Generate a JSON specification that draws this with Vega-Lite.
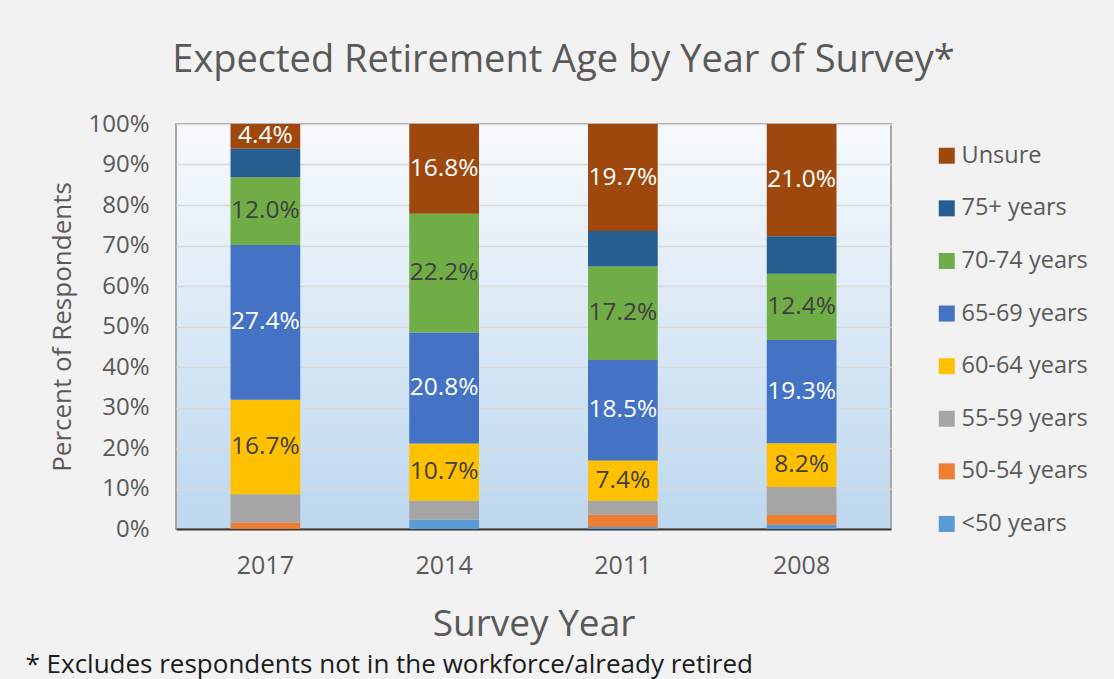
{
  "$schema": "https://vega.github.io/schema/vega-lite/v6.json",
  "width": 715,
  "height": 405,
  "autosize": {"type": "none"},
  "padding": {"left": 176, "top": 124, "right": 223, "bottom": 150},
  "background": "#f2f2f2",
  "config": {
    "font": "Open Sans",
    "view": {
      "stroke": "#a6a6a6",
      "strokeWidth": 2,
      "fill": {
        "gradient": "linear",
        "x1": 0, "y1": 0, "x2": 0, "y2": 1,
        "stops": [
          {"offset": 0, "color": "#f7fafd"},
          {"offset": 1, "color": "#bdd7ee"}
        ]
      }
    }
  },
  "title": {
    "text": "Expected Retirement Age by Year of Survey*",
    "fontSize": 38,
    "fontWeight": "normal",
    "color": "#595959",
    "anchor": "middle",
    "frame": "group",
    "dx": 30,
    "offset": 32
  },
  "data": {
    "values": [
      {"year": "2017", "age": "<50 years", "rank": 1, "value": 0.0},
      {"year": "2017", "age": "50-54 years", "rank": 2, "value": 0.0115},
      {"year": "2017", "age": "55-59 years", "rank": 3, "value": 0.050},
      {"year": "2017", "age": "60-64 years", "rank": 4, "value": 0.167},
      {"year": "2017", "age": "65-69 years", "rank": 5, "value": 0.274},
      {"year": "2017", "age": "70-74 years", "rank": 6, "value": 0.120},
      {"year": "2017", "age": "75+ years", "rank": 7, "value": 0.050},
      {"year": "2017", "age": "Unsure", "rank": 8, "value": 0.044},
      {"year": "2014", "age": "<50 years", "rank": 1, "value": 0.0174},
      {"year": "2014", "age": "50-54 years", "rank": 2, "value": 0.0},
      {"year": "2014", "age": "55-59 years", "rank": 3, "value": 0.0356},
      {"year": "2014", "age": "60-64 years", "rank": 4, "value": 0.107},
      {"year": "2014", "age": "65-69 years", "rank": 5, "value": 0.208},
      {"year": "2014", "age": "70-74 years", "rank": 6, "value": 0.222},
      {"year": "2014", "age": "75+ years", "rank": 7, "value": 0.0},
      {"year": "2014", "age": "Unsure", "rank": 8, "value": 0.168},
      {"year": "2011", "age": "<50 years", "rank": 1, "value": 0.0037},
      {"year": "2011", "age": "50-54 years", "rank": 2, "value": 0.0223},
      {"year": "2011", "age": "55-59 years", "rank": 3, "value": 0.026},
      {"year": "2011", "age": "60-64 years", "rank": 4, "value": 0.074},
      {"year": "2011", "age": "65-69 years", "rank": 5, "value": 0.185},
      {"year": "2011", "age": "70-74 years", "rank": 6, "value": 0.172},
      {"year": "2011", "age": "75+ years", "rank": 7, "value": 0.065},
      {"year": "2011", "age": "Unsure", "rank": 8, "value": 0.197},
      {"year": "2008", "age": "<50 years", "rank": 1, "value": 0.0081},
      {"year": "2008", "age": "50-54 years", "rank": 2, "value": 0.0182},
      {"year": "2008", "age": "55-59 years", "rank": 3, "value": 0.0523},
      {"year": "2008", "age": "60-64 years", "rank": 4, "value": 0.082},
      {"year": "2008", "age": "65-69 years", "rank": 5, "value": 0.193},
      {"year": "2008", "age": "70-74 years", "rank": 6, "value": 0.124},
      {"year": "2008", "age": "75+ years", "rank": 7, "value": 0.0705},
      {"year": "2008", "age": "Unsure", "rank": 8, "value": 0.210}
    ]
  },
  "transform": [
    {"stack": "value", "groupby": ["year"], "sort": [{"field": "rank", "order": "ascending"}], "offset": "normalize", "as": ["y0", "y1"]},
    {"calculate": "(datum.y0 + datum.y1) / 2", "as": "ymid"}
  ],
  "layer": [
    {
      "mark": {"type": "bar"},
      "encoding": {
        "x": {
          "field": "year", "type": "nominal",
          "sort": ["2017", "2014", "2011", "2008"],
          "scale": {"paddingInner": 0.61, "paddingOuter": 0.305},
          "title": "Survey Year",
          "axis": {
            "orient": "bottom",
            "labelAngle": 0,
            "labelFontSize": 25,
            "labelColor": "#595959",
            "labelPadding": 24,
            "ticks": false,
            "domainColor": "#3a3a3a",
            "domainWidth": 2,
            "titleFontSize": 37,
            "titleFontWeight": "normal",
            "titleColor": "#595959",
            "titlePadding": 28
          }
        },
        "y": {
          "field": "y1", "type": "quantitative",
          "scale": {"domain": [0, 1]},
          "title": "Percent of Respondents",
          "axis": {
            "format": ".0%",
            "values": [0, 0.1, 0.2, 0.3, 0.4, 0.5, 0.6, 0.7, 0.8, 0.9, 1],
            "labelFontSize": 24,
            "labelColor": "#595959",
            "labelPadding": 27,
            "ticks": false,
            "domain": false,
            "gridColor": "#d9d9d9",
            "gridWidth": 1.5,
            "titleFontSize": 26,
            "titleFontWeight": "normal",
            "titleColor": "#595959",
            "titlePadding": 12
          }
        },
        "y2": {"field": "y0"},
        "color": {
          "field": "age", "type": "nominal",
          "scale": {
            "domain": ["Unsure", "75+ years", "70-74 years", "65-69 years", "60-64 years", "55-59 years", "50-54 years", "<50 years"],
            "range": ["#9e480e", "#255e91", "#70ad47", "#4472c4", "#ffc000", "#a5a5a5", "#ed7d31", "#5b9bd5"]
          },
          "legend": {
            "title": null,
            "orient": "right",
            "offset": 24,
            "padding": 20,
            "symbolType": "square",
            "symbolSize": 256,
            "symbolStrokeWidth": 0,
            "labelFontSize": 23.5,
            "labelColor": "#595959",
            "labelOffset": 3,
            "rowPadding": 27.6
          }
        }
      }
    },
    {
      "transform": [{"filter": "datum.rank >= 4 && datum.rank != 7"}],
      "mark": {"type": "text", "fontSize": 24.5, "baseline": "middle", "align": "center"},
      "encoding": {
        "x": {
          "field": "year", "type": "nominal",
          "sort": ["2017", "2014", "2011", "2008"],
          "title": "* Excludes respondents not in the workforce/already retired",
          "axis": {
            "orient": "bottom",
            "labels": false,
            "ticks": false,
            "domain": false,
            "grid": false,
            "titleFontSize": 26,
            "titleFontWeight": "normal",
            "titleColor": "#1a1a1a",
            "titleAnchor": "start",
            "titleAlign": "left",
            "titleX": -151,
            "titleY": 143,
            "titleBaseline": "alphabetic",
            "titlePadding": 0
          }
        },
        "y": {"field": "ymid", "type": "quantitative", "title": "Percent of Respondents"},
        "text": {"field": "value", "type": "quantitative", "format": ".1%"},
        "color": {
          "condition": {"test": "datum.age === 'Unsure' || datum.age === '65-69 years'", "value": "#ffffff"},
          "value": "#404040"
        }
      }
    }
  ],
  "resolve": {"axis": {"x": "independent"}}
}
